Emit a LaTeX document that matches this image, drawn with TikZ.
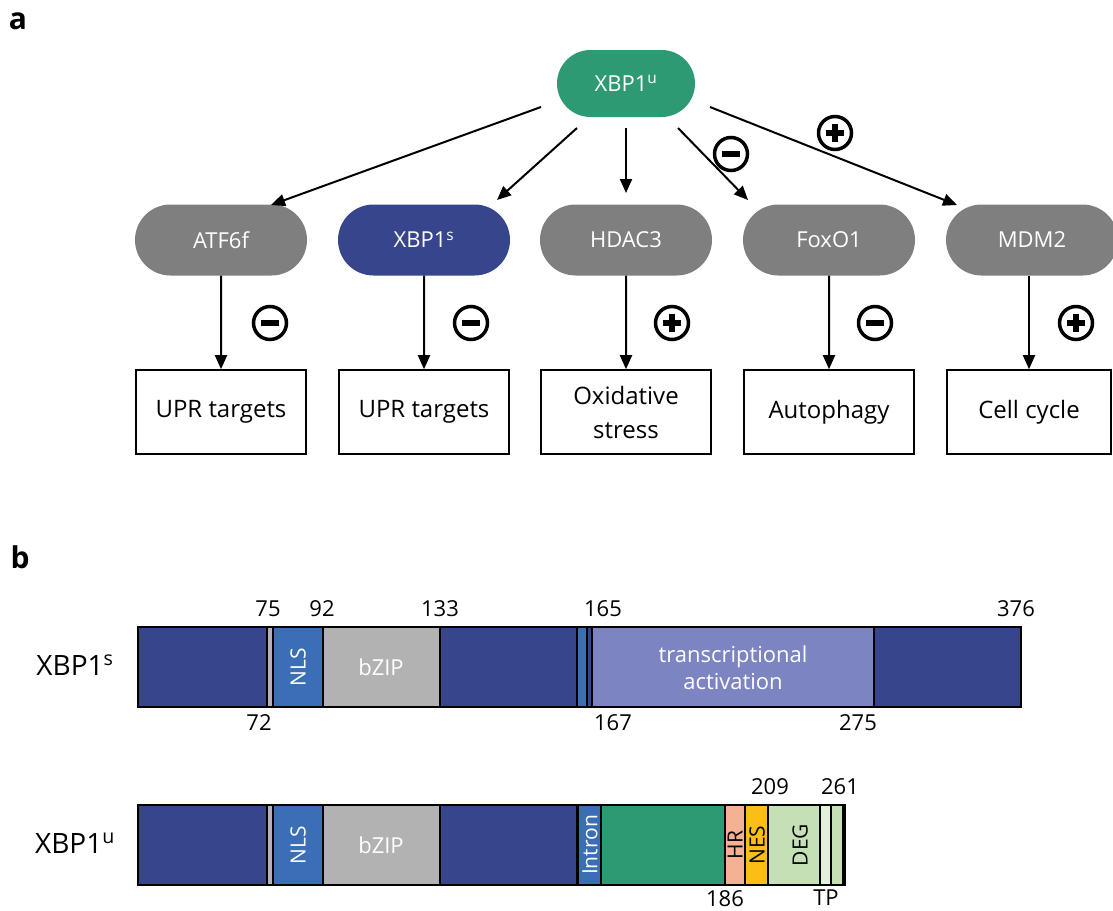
\documentclass[tikz,border=0pt]{standalone}
\usepackage{fontspec}
\setmainfont{Open Sans}
\usetikzlibrary{arrows.meta, positioning, shapes, calc}

\definecolor{XGreen}{RGB}{46,154,116}
\definecolor{XNavy}{RGB}{55,70,140}
\definecolor{XGray}{RGB}{127,127,127}
\definecolor{NlsBlue}{RGB}{58,110,182}
\definecolor{ZipGray}{RGB}{178,178,178}
\definecolor{TaPurple}{RGB}{125,132,194}
\definecolor{HrSalmon}{RGB}{244,177,148}
\definecolor{NesGold}{RGB}{251,190,20}
\definecolor{DegGreen}{RGB}{197,224,180}
\definecolor{TpGreen}{RGB}{226,239,218}

\begin{document}
\begin{tikzpicture}[x=1pt, y=-1pt,
    every node/.style={font=\fontsize{22}{27}\selectfont, align=center},
    pill/.style={rounded rectangle, fill=XGray, text=white, minimum width=172pt,
                 minimum height=71pt, inner sep=0pt},
    box/.style={draw, line width=1.6pt, minimum width=170pt, minimum height=84pt,
                inner sep=0pt, font=\fontsize{24}{34}\selectfont},
    arr/.style={-{Triangle[length=14pt,width=12pt]}, line width=2pt},
    sgn/.style={circle, draw, line width=3.5pt, minimum size=33pt, inner sep=0pt},
    signminus/.style={sgn, path picture={\fill (path picture bounding box.center) ++(-9,-2.6) rectangle ++(18,5.2);}},
    signplus/.style={sgn, path picture={\fill (path picture bounding box.center) ++(-9,-2.6) rectangle ++(18,5.2);
                     \fill (path picture bounding box.center) ++(-2.6,-9) rectangle ++(5.2,18);}},
    panel/.style={font=\fontsize{30}{30}\selectfont\bfseries},
    seg/.style={draw, line width=1.6pt},
    num/.style={font=\fontsize{22}{24}\selectfont},
    vlab/.style={rotate=90, font=\fontsize{21}{24}\selectfont}
]
\useasboundingbox (0,0) rectangle (1113,910);

% panel a
\node[panel] (la) at (18,21) {a};
\node[pill, fill=XGreen, minimum width=138pt, minimum height=67pt] (xu) at (626,83.5) {XBP1\textsuperscript{u}};

\node[pill] (atf) at (221,240) {ATF6f};
\node[pill, fill=XNavy] (xs) at (424,240) {XBP1\textsuperscript{s}};
\node[pill] (hdac) at (626,240) {HDAC3};
\node[pill] (fox) at (829,240) {FoxO1};
\node[pill] (mdm) at (1032,240) {MDM2};

\node[box] (t1) at (221,412) {UPR targets};
\node[box] (t2) at (424,412) {UPR targets};
\node[box] (t3) at (626,412) {Oxidative\\stress};
\node[box] (t4) at (829,412) {Autophagy};
\node[box, minimum width=164pt] (t5) at (1029,412) {Cell cycle};

\draw[arr] ($(xu.center)+(-85,23.5)$) -- ($(atf.center)+(50,-35)$);
\draw[arr] ($(xu.center)+(-49,44.5)$) -- ($(xs.center)+(73,-40)$);
\draw[arr] ($(xu.center)+(0,44.5)$) -- ($(hdac.center)+(0,-47)$);
\draw[arr] ($(xu.center)+(52,44.5)$) -- ($(fox.center)+(-81,-40)$);
\draw[arr] ($(xu.center)+(84,23.5)$) -- ($(mdm.center)+(-75,-35)$);

\draw[arr] (atf) -- (t1);
\draw[arr] (xs) -- (t2);
\draw[arr] (hdac) -- (t3);
\draw[arr] (fox) -- (t4);
\draw[arr] (mdm.south -| t5) -- (t5);

\node[signminus] (s1) at (731,154) {};
\node[signplus] (s2) at (835,133) {};
\node[signminus] (s3) at (270,323) {};
\node[signminus] (s4) at (471,323) {};
\node[signplus] (s5) at (672,323) {};
\node[signminus] (s6) at (875,323) {};
\node[signplus] (s7) at (1076,323) {};

% panel b
\node[panel] (lb) at (20,557) {b};

\node[font=\fontsize{28}{30}\selectfont] (ns) at (75,665) {XBP1\textsuperscript{s}};
\foreach \a/\b/\c in {138/267/XNavy, 267/273/ZipGray, 273/323/NlsBlue, 323/440/ZipGray,
                      440/577/XNavy, 577/587/NlsBlue, 587/592/XNavy, 592/874/TaPurple, 874/1021/XNavy}
  \draw[seg, fill=\c] (\a,627) rectangle (\b,707);
\node[vlab, text=white] (nls1) at (298,667) {NLS};
\node[text=white] (zip1) at (381,667) {bZIP};
\node[text=white, font=\fontsize{22}{27}\selectfont] (ta) at (733,668) {transcriptional\\activation};
\node[num] (n75) at (268,609) {75};
\node[num] (n92) at (322,609) {92};
\node[num] (n133) at (440,609) {133};
\node[num] (n165) at (603,609) {165};
\node[num] (n376) at (1016,609) {376};
\node[num] (n72) at (259,723) {72};
\node[num] (n167) at (613,723) {167};
\node[num] (n275) at (858,723) {275};

\node[font=\fontsize{28}{30}\selectfont] (nu) at (75,843) {XBP1\textsuperscript{u}};
\foreach \a/\b/\c in {138/267/XNavy, 267/273/ZipGray, 273/323/NlsBlue, 323/440/ZipGray,
                      440/577/XNavy, 578/601/NlsBlue, 601/725/XGreen, 725/745/HrSalmon,
                      745/768/NesGold, 768/820/DegGreen, 820/831/TpGreen, 831/843/DegGreen, 843/845/XGreen}
  \draw[seg, fill=\c] (\a,805) rectangle (\b,885);
\node[vlab, text=white] (nls2) at (298,845) {NLS};
\node[text=white] (zip2) at (381,845) {bZIP};
\node[vlab, text=white] (intr) at (590,845) {Intron};
\node[vlab] (hr) at (735,845) {HR};
\node[vlab] (nes) at (757,845) {NES};
\node[vlab] (deg) at (800,845) {DEG};
\node[num] (n209) at (770,787) {209};
\node[num] (n261) at (840,787) {261};
\node[num] (n186) at (725,899) {186};
\node[num] (ntp) at (826,898) {TP};
\end{tikzpicture}
\end{document}
